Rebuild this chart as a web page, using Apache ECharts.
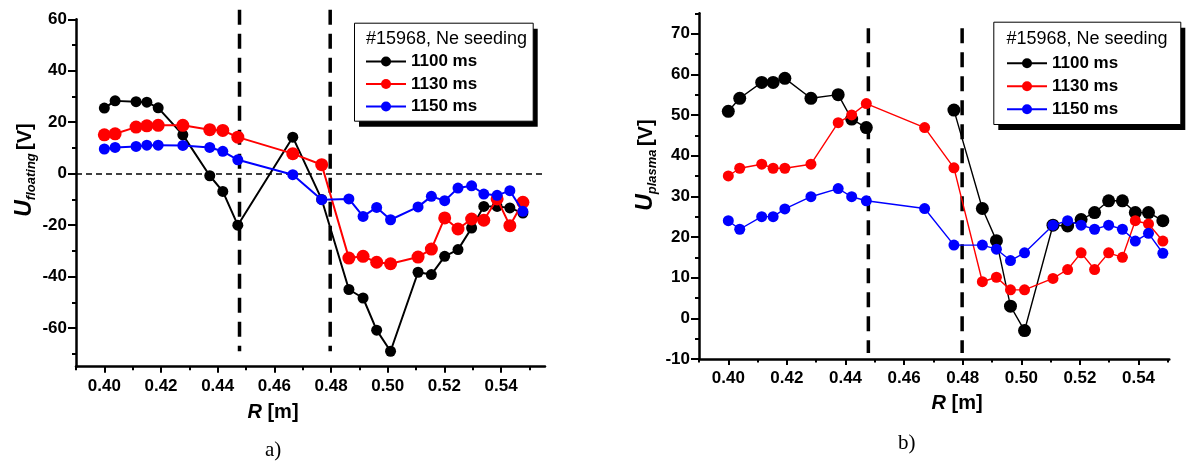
<!DOCTYPE html>
<html><head><meta charset="utf-8">
<script src="https://cdn.jsdelivr.net/npm/echarts@6/dist/echarts.min.js"></script>
<style>html,body{margin:0;padding:0;background:#fff}#c{width:1198px;height:466px}</style>
</head><body><div id="c"></div>
<script>
// ---------- data ----------
const seriesNames = ['1100 ms', '1130 ms', '1150 ms'];
const seriesColors = ['#000000', '#ff0000', '#0000ff'];
const legendTitle = '#15968, Ne seeding';

// Panel a) floating potential
const rA = [0.400,0.4038,0.4112,0.4150,0.4190,0.4277,0.4372,0.4418,0.4471,0.4665,0.4767,0.4863,0.4913,0.4961,0.5010,0.5107,0.5154,0.5201,0.5248,0.5296,0.5339,0.5386,0.5431,0.5477];
const uFloat1100 = [25.5,28.3,28,27.8,25.6,15.1,-0.8,-6.9,-20,14.2,-10,-45,-48.3,-60.8,-69,-38.3,-39.2,-32.1,-29.5,-21.1,-12.7,-12.7,-13.3,-15.3];
const uFloat1130 = [15.1,15.5,18.1,18.6,18.8,18.8,17.1,16.8,14.2,7.8,3.5,-32.8,-32.1,-34.4,-35,-32.4,-29.3,-17.2,-21.5,-17.6,-18.1,-9.8,-20.2,-11.1];
const uFloat1150 = [9.6,10.2,10.6,11.1,11.1,11,10.2,8.7,5.4,-0.4,-10.1,-9.8,-16.6,-13.1,-17.9,-12.9,-8.8,-10.5,-5.6,-4.7,-7.9,-8.4,-6.6,-14.6];

// Panel b) plasma potential (null = no measurement, line broken)
const rB = [0.400,0.4039,0.4114,0.4153,0.4193,0.4282,0.4375,0.4421,0.4471,0.4670,0.4770,0.4867,0.4915,0.4963,0.5011,0.5108,0.5158,0.5204,0.5250,0.5298,0.5345,0.5389,0.5434,0.5483];
const uPlasma1100 = [50.9,54.1,58,58,59,54.1,55,49,46.9,null,51.2,27,19.1,3,-3,22.9,22.7,24.3,26,28.9,28.9,26,26,24];
const uPlasma1130 = [35,36.9,37.9,36.9,36.9,37.9,48.1,50,52.8,46.9,37,9,10.1,7,7,9.8,12,16.1,12,16.1,15,24,23.2,19];
const uPlasma1150 = [24,21.9,25,25,26.9,29.9,31.9,29.9,28.9,27,18,18,17,14.2,16.1,22.9,24,22.9,21.9,22.9,21.9,19,20.9,16];

// separatrix-like vertical dashed markers: [R, top, bottom]
const markersA = [[0.4477, 63.7, -69], [0.4797, 63.7, -69]];
const markersB = [[0.4478, 71.3, -8.5], [0.4798, 71.3, -8.5]];

// axes / ticks
const xRange = [0.39, 0.5555];
const xRangeB = [0.39, 0.5505];
const xMajor = [0.40,0.42,0.44,0.46,0.48,0.50,0.52,0.54];
const xMinor = [0.39,0.41,0.43,0.45,0.47,0.49,0.51,0.53,0.55];
const yRangeA = [-75, 60];
const yMajorA = [-60,-40,-20,0,20,40,60];
const yMinorA = [-70,-50,-30,-10,10,30,50];
const yRangeB = [-10, 75];
const yMajorB = [-10,0,10,20,30,40,50,60,70];
const yMinorB = [-5,5,15,25,35,45,55,65,75];

// ---------- chart ----------
const FF = "'Liberation Sans', Arial, sans-serif";
const zip = (xs, ys) => xs.map((x, i) => [x, ys[i] === null ? '-' : ys[i]]);

function xAxes(grid, range, nameOpt) {
  return [
    {
      type: 'value', gridIndex: grid, min: range[0], max: range[1], position: 'bottom',
      axisLine: { onZero: false, lineStyle: { color: '#000', width: 2.5 } },
      axisTick: { customValues: xMajor, length: 6, lineStyle: { color: '#000', width: 2 } },
      axisLabel: { customValues: xMajor, margin: 11, color: '#000', fontSize: 17, fontWeight: 'bold', fontFamily: FF,
        formatter: v => v.toFixed(2) },
      splitLine: { show: false },
      name: '{r|R}{m| [m]}', nameLocation: 'middle', nameGap: nameOpt.gap,
      nameTextStyle: { padding: nameOpt.padding, rich: {
        r: { fontSize: 20, fontWeight: 'bold', fontStyle: 'italic', fontFamily: FF, color: '#000', lineHeight: 22 },
        m: { fontSize: 20, fontWeight: 'bold', fontFamily: FF, color: '#000', lineHeight: 22 } } }
    },
    {
      type: 'value', gridIndex: grid, min: range[0], max: range[1], position: 'bottom',
      axisLine: { show: false, onZero: false },
      axisTick: { customValues: xMinor, length: 3.5, lineStyle: { color: '#000', width: 2 } },
      axisLabel: { show: false }, splitLine: { show: false }
    }
  ];
}
function yAxes(grid, range, major, minor, sub, nameOpt) {
  return [
    {
      type: 'value', gridIndex: grid, min: range[0], max: range[1], position: 'left',
      axisLine: { onZero: false, lineStyle: { color: '#000', width: 2.5 } },
      axisTick: { customValues: major, length: 8, lineStyle: { color: '#000', width: 2 } },
      axisLabel: { customValues: major, margin: 9, color: '#000', fontSize: 17, fontWeight: 'bold', fontFamily: FF },
      splitLine: { show: false },
      name: '{u|U}{s|' + sub + '} {v|[V]}', nameLocation: 'middle', nameRotate: 90, nameGap: nameOpt.gap,
      nameTextStyle: { padding: nameOpt.padding, rich: {
        u: { fontSize: 23, fontWeight: 'bold', fontStyle: 'italic', fontFamily: FF, color: '#000', lineHeight: 26 },
        s: { fontSize: 13, fontWeight: 'bold', fontStyle: 'italic', fontFamily: FF, color: '#000', lineHeight: 15, verticalAlign: 'bottom', padding: [0, 0, 0, 0] },
        v: { fontSize: 20, fontWeight: 'bold', fontFamily: FF, color: '#000', lineHeight: 26 } } }
    },
    {
      type: 'value', gridIndex: grid, min: range[0], max: range[1], position: 'left',
      axisLine: { show: false, onZero: false },
      axisTick: { customValues: minor, length: 4, lineStyle: { color: '#000', width: 2 } },
      axisLabel: { show: false }, splitLine: { show: false }
    }
  ];
}

function lineSeries(name, color, xIdx, yIdx, data, size, width, z) {
  return {
    type: 'line', name, xAxisIndex: xIdx, yAxisIndex: yIdx, data,
    symbol: 'circle', symbolSize: size, showSymbol: true, connectNulls: false,
    lineStyle: { color, width }, itemStyle: { color }, z, animation: false
  };
}
function markerSeries(xIdx, yIdx, data) {
  return {
    type: 'custom', xAxisIndex: xIdx, yAxisIndex: yIdx, data, clip: false, z: 1, animation: false,
    renderItem: (params, api) => {
      const p1 = api.coord([api.value(0), api.value(1)]);
      const p2 = api.coord([api.value(0), api.value(2)]);
      return { type: 'line', shape: { x1: p1[0], y1: p1[1], x2: p2[0], y2: p2[1] },
        style: { stroke: '#000', lineWidth: 3.5, lineDash: [15, 9] } };
    }
  };
}

const xa = xAxes(0, xRange, { gap: 35, padding: [0, 75, 0, 0] });
const xb = xAxes(1, xRangeB, { gap: 33, padding: [0, 0, 0, 46] });
const ya = yAxes(0, yRangeA, yMajorA, yMinorA, 'floating', { gap: 38, padding: [0, 0, 0, 46] });
const yb = yAxes(1, yRangeB, yMajorB, yMinorB, 'plasma', { gap: 40, padding: [0, 0, 0, 42] });

const floatData = [uFloat1100, uFloat1130, uFloat1150];
const plasmaData = [uPlasma1100, uPlasma1130, uPlasma1150];
const sizesA = [11, 13, 11], sizesB = [13, 11, 11];

const series = [];
series.push(markerSeries(0, 0, markersA));
series.push(markerSeries(2, 2, markersB));
floatData.forEach((d, i) => {
  const s = lineSeries(seriesNames[i], seriesColors[i], 0, 0, zip(rA, d), sizesA[i], 2, 3 + i);
  if (i === 0) s.markLine = { silent: true, symbol: 'none', label: { show: false },
    lineStyle: { color: '#000', type: [6, 4], width: 1.5 }, data: [{ yAxis: 0 }], animation: false };
  series.push(s);
});
plasmaData.forEach((d, i) => {
  series.push(lineSeries(seriesNames[i], seriesColors[i], 2, 2, zip(rB, d), sizesB[i], 1.4, 3 + i));
});

function legendBox(x, y, w, h) {
  return [
    { type: 'rect', left: x + 5, top: y + 6, z: 5, shape: { width: w, height: h }, style: { fill: '#000' } },
    { type: 'rect', left: x, top: y, z: 6, shape: { width: w, height: h }, style: { fill: '#fff', stroke: '#000', lineWidth: 1 } }
  ];
}
const legendCommon = {
  orient: 'vertical', itemWidth: 40, itemHeight: 12.5, itemGap: 4.5, padding: 0, z: 10,
  textStyle: { fontSize: 17, fontWeight: 'bold', color: '#000', fontFamily: FF, lineHeight: 18 },
  data: seriesNames, selectedMode: false
};

const option = {
  backgroundColor: '#fff',
  animation: false,
  grid: [
    { left: 76, top: 19.3, width: 469, height: 347.4, containLabel: false, outerBoundsMode: 'none' },
    { left: 699, top: 13.3, width: 470.3, height: 345.7, containLabel: false, outerBoundsMode: 'none' }
  ],
  xAxis: [...xa, ...xb],
  yAxis: [...ya, ...yb],
  legend: [
    Object.assign({}, legendCommon, { left: 365, top: 52.5 }),
    Object.assign({}, legendCommon, { left: 1006, top: 54.3, itemGap: 5 })
  ],
  graphic: [
    ...legendBox(354, 22.7, 178.7, 98),
    ...legendBox(993.3, 21.7, 187, 102.3),
    { type: 'text', left: 366, top: 30, z: 10, style: { text: legendTitle, fontSize: 18, fontFamily: FF, fill: '#000' } },
    { type: 'text', left: 1006.5, top: 30, z: 10, style: { text: legendTitle, fontSize: 18, fontFamily: FF, fill: '#000' } },
    { type: 'text', left: 265, top: 440, style: { text: 'a)', fontSize: 21, fontFamily: "'Liberation Serif', 'Times New Roman', serif", fill: '#000' } },
    { type: 'text', left: 898, top: 433, style: { text: 'b)', fontSize: 21, fontFamily: "'Liberation Serif', 'Times New Roman', serif", fill: '#000' } }
  ],
  series
};
const chart = echarts.init(document.getElementById('c'), null, { renderer: 'canvas' });
chart.setOption(option);
</script>
</body></html>
